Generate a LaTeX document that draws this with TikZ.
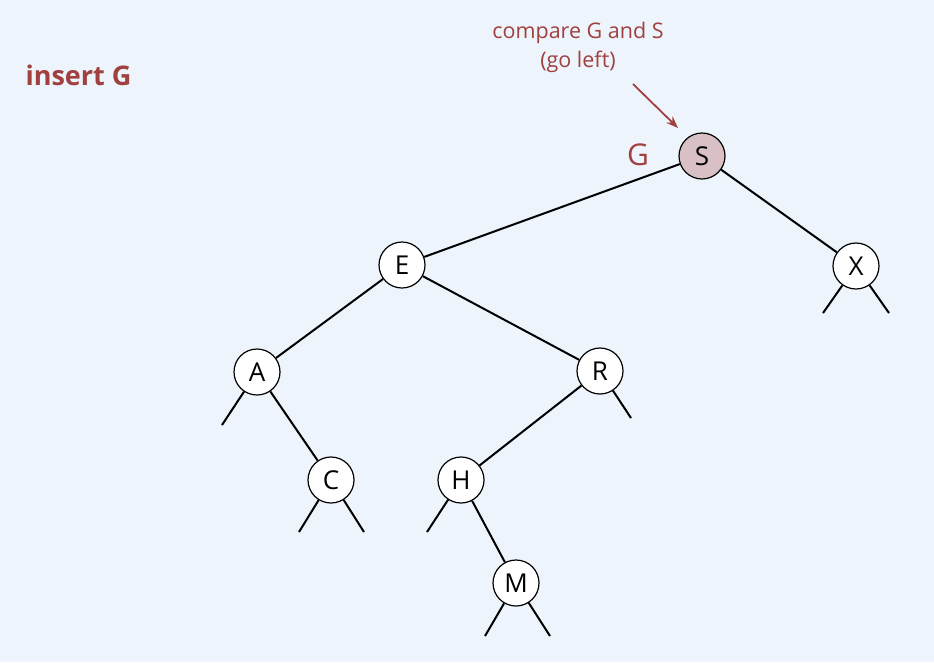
\documentclass[tikz,border=0pt]{standalone}
\usepackage{fontspec}
\setmainfont{Open Sans}
\usetikzlibrary{arrows.meta}
\definecolor{bg}{HTML}{EEF4FC}
\definecolor{accent}{HTML}{A0403F}
\definecolor{hit}{HTML}{D9C0C5}
\begin{document}
\begin{tikzpicture}[x=1pt,y=-1pt,
  key/.style={circle,draw=black,line width=1.2pt,fill=white,minimum size=46pt,inner sep=0pt,font=\fontsize{26}{28}\selectfont},
  link/.style={line width=2pt},
  note/.style={text=accent,font=\fontsize{21.5}{29}\selectfont,align=center}]
  \fill[bg] (0,0) rectangle (934,662);
  \useasboundingbox (0,0) rectangle (934,662);

  % keys
  \node[key,fill=hit] (S) at (702,156) {S};
  \node[key] (E) at (402,265) {E};
  \node[key] (X) at (856,266) {X};
  \node[key] (A) at (257,372) {A};
  \node[key] (R) at (600,371) {R};
  \node[key] (C) at (331,480) {C};
  \node[key] (H) at (461,480) {H};
  \node[key] (M) at (516,583) {M};

  % links
  \draw[link] (S) -- (E);
  \draw[link] (S) -- (X);
  \draw[link] (E) -- (A);
  \draw[link] (E) -- (R);
  \draw[link] (A) -- (C);
  \draw[link] (R) -- (H);
  \draw[link] (H) -- (M);

  % null links
  \coordinate (xl) at (823,313); \coordinate (xr) at (889,313);
  \coordinate (al) at (222,425);
  \coordinate (rr) at (631,418);
  \coordinate (cl) at (299,532); \coordinate (cr) at (364,532);
  \coordinate (hl) at (427,532);
  \coordinate (ml) at (485,636); \coordinate (mr) at (550,636);
  \draw[link] (X) -- (xl);
  \draw[link] (X) -- (xr);
  \draw[link] (A) -- (al);
  \draw[link] (R) -- (rr);
  \draw[link] (C) -- (cl);
  \draw[link] (C) -- (cr);
  \draw[link] (H) -- (hl);
  \draw[link] (M) -- (ml);
  \draw[link] (M) -- (mr);

  % labels
  \node[anchor=west,text=accent,font=\fontsize{27}{30}\selectfont\bfseries] (title) at (22,75) {insert G};
  \node[note] (cmp) at (578,47) {compare G and S\\(go left)};
  \node[text=accent,font=\fontsize{30}{32}\selectfont] (g) at (638,155) {G};
  \coordinate (tip) at (678,128);
  \draw[accent,line width=1.8pt,-{Stealth[length=12pt,width=9pt]}] (633,84) -- (tip);
\end{tikzpicture}
\end{document}
